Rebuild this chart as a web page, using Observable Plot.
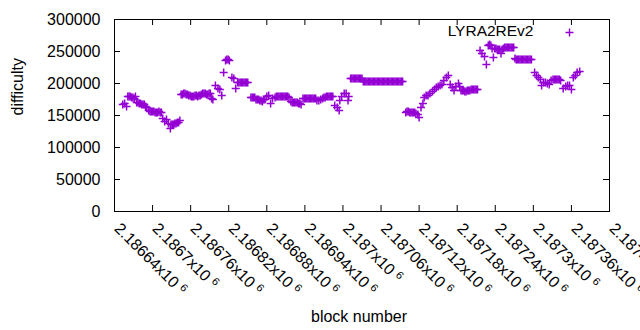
<!DOCTYPE html>
<html>
<head>
<meta charset="utf-8">
<script src="https://cdn.jsdelivr.net/npm/d3@7"></script>
<script src="https://cdn.jsdelivr.net/npm/@observablehq/plot@0.6"></script>
<style>
  html, body { margin: 0; padding: 0; background: #fff; overflow: hidden; }
  #chart { width: 640px; height: 330px; overflow: hidden; }
</style>
</head>
<body>
<div id="chart"></div>
<script>
// ---- data ----
const seriesName = "LYRA2REv2";
const blocks = [
  2186653, 2186656, 2186659,
  2186661, 2186663, 2186665, 2186667, 2186669, 2186671, 2186673,
  2186675, 2186677, 2186679, 2186681, 2186683, 2186685, 2186687, 2186689, 2186691,
  2186694, 2186696, 2186698, 2186700, 2186702, 2186704, 2186706, 2186708, 2186710, 2186712, 2186714,
  2186716, 2186719, 2186722, 2186725, 2186728,
  2186729, 2186731, 2186733, 2186735, 2186737, 2186739, 2186741, 2186743,
  2186745, 2186747, 2186749, 2186751, 2186753, 2186755, 2186757, 2186759, 2186761, 2186763, 2186765, 2186767,
  2186769, 2186771, 2186773, 2186775, 2186777, 2186779, 2186781, 2186783, 2186785, 2186787, 2186789, 2186791,
  2186793, 2186795, 2186799, 2186803, 2186806, 2186809, 2186812,
  2186815, 2186817, 2186819, 2186821, 2186825, 2186828, 2186831,
  2186834, 2186836, 2186838, 2186840, 2186842, 2186844, 2186846, 2186848, 2186850,
  2186855, 2186857, 2186859, 2186861, 2186863, 2186865, 2186867, 2186869, 2186871, 2186873, 2186875,
  2186877, 2186880, 2186883, 2186886, 2186889,
  2186893, 2186895, 2186897, 2186899, 2186901, 2186903, 2186905, 2186907, 2186909, 2186911, 2186913, 2186915,
  2186918, 2186920, 2186922, 2186924, 2186926, 2186928, 2186930, 2186932, 2186934,
  2186937, 2186939, 2186941, 2186943, 2186945, 2186947, 2186949, 2186951, 2186953, 2186955, 2186957,
  2186959, 2186962, 2186965,
  2186968, 2186970, 2186972, 2186974, 2186976, 2186978, 2186980, 2186982, 2186984,
  2186987, 2186991, 2186994, 2186995, 2186998, 2187002, 2187005, 2187008, 2187009,
  2187012, 2187014, 2187016, 2187018, 2187020, 2187022, 2187024, 2187026, 2187028, 2187030,
  2187032, 2187034, 2187036, 2187038, 2187040, 2187042, 2187044, 2187046, 2187048, 2187050,
  2187052, 2187054, 2187056, 2187058, 2187060, 2187062, 2187064, 2187066, 2187068, 2187070,
  2187072, 2187074, 2187076, 2187078, 2187080, 2187082, 2187084, 2187086, 2187088, 2187090, 2187092, 2187094,
  2187099, 2187101, 2187103, 2187105, 2187107, 2187109, 2187111, 2187113, 2187115, 2187118, 2187120,
  2187123, 2187126, 2187128, 2187131, 2187134, 2187137, 2187141, 2187144, 2187147, 2187150,
  2187153, 2187156, 2187159, 2187163, 2187166, 2187169, 2187172, 2187175, 2187178, 2187182,
  2187184, 2187186, 2187188, 2187190, 2187192, 2187194, 2187196, 2187198, 2187200,
  2187202, 2187204, 2187206, 2187208, 2187210, 2187212,
  2187216, 2187219, 2187223, 2187226,
  2187229, 2187231, 2187233, 2187235, 2187237, 2187239, 2187241, 2187243, 2187245, 2187247, 2187249, 2187251, 2187253,
  2187255, 2187257, 2187259, 2187261, 2187263, 2187265, 2187267, 2187269,
  2187271, 2187273, 2187275, 2187277, 2187279, 2187281, 2187283, 2187285,
  2187287, 2187289, 2187291, 2187293, 2187295, 2187297,
  2187302, 2187305, 2187308, 2187311, 2187313, 2187316, 2187319, 2187322, 2187325, 2187328,
  2187331, 2187333, 2187335, 2187337, 2187339, 2187341, 2187343,
  2187347, 2187351, 2187354, 2187357, 2187360, 2187363, 2187366, 2187369, 2187373
];
const difficulty = [
  167200, 168800, 164100,
  179700, 179700, 179700, 178100, 178100, 176600, 179700,
  170300, 170300, 168800, 168800, 167200, 167200, 167200, 164100, 162500,
  157800, 156300, 156300, 156300, 156300, 154700, 154700, 154700, 156300, 154700, 154700,
  145300, 140600, 143800, 137500, 129700,
  135900, 135900, 135900, 137500, 137500, 139100, 139100, 142200,
  182800, 182800, 184400, 184400, 182800, 182800, 181300, 181300, 179700, 179700, 179700, 181300,
  181300, 179700, 181300, 181300, 182800, 184400, 184400, 184400, 182800, 182800, 184400, 184400,
  176600, 175000, 196900, 192200, 190600, 181300, 217200,
  235900, 237500, 237500, 235900, 209400, 207800, 192200,
  201600, 201600, 201600, 201600, 201600, 201600, 201600, 201600, 201600,
  178100, 178100, 178100, 178100, 175000, 175000, 175000, 173400, 173400, 171900, 175000,
  175000, 179700, 181300, 168800, 176600,
  178100, 179700, 179700, 179700, 179700, 179700, 179700, 179700, 179700, 179700, 179700, 178100,
  171900, 170300, 170300, 170300, 170300, 170300, 168800, 168800, 167200,
  176600, 176600, 176600, 176600, 176600, 176600, 176600, 176600, 176600, 176600, 176600,
  173400, 173400, 175000,
  176600, 178100, 178100, 179700, 179700, 179700, 179700, 179700, 179700,
  165600, 162500, 157800, 173400, 179700, 184400, 184400, 173400, 179700,
  207800, 207800, 207800, 207800, 207800, 207800, 207800, 207800, 207800, 207800,
  203100, 203100, 203100, 203100, 203100, 203100, 203100, 203100, 203100, 203100,
  203100, 203100, 203100, 203100, 203100, 203100, 203100, 203100, 203100, 203100,
  203100, 203100, 203100, 203100, 203100, 203100, 203100, 203100, 203100, 203100, 203100, 203100,
  154700, 156300, 156300, 154700, 154700, 154700, 154700, 154700, 153100, 151600, 146900,
  162500, 168800, 178100, 181300, 181300, 184400, 187500, 190600, 193800, 195300,
  196900, 198400, 204700, 209400, 212500, 198400, 193800, 189100, 195300, 200000,
  195300, 189100, 189100, 189100, 187500, 187500, 189100, 189100, 189100,
  190600, 190600, 190600, 190600, 190600, 190600,
  251600, 246900, 242200, 229700,
  259400, 260900, 259400, 254700, 240600, 254700, 254700, 253100, 253100, 253100, 246900, 253100, 254700,
  256300, 256300, 256300, 256300, 256300, 256300, 256300, 256300,
  239100, 237500, 237500, 237500, 237500, 237500, 237500, 237500,
  237500, 237500, 237500, 237500, 237500, 237500,
  217200, 212500, 209400, 206300, 196900, 201600, 201600, 200000, 198400, 204700,
  206300, 206300, 206300, 206300, 206300, 206300, 204700,
  192200, 195300, 196900, 196900, 190600, 209400, 212500, 217200, 218800
];
const xTicks = [2186640, 2186700, 2186760, 2186820, 2186880, 2186940, 2187000,
                2187060, 2187120, 2187180, 2187240, 2187300, 2187360, 2187420];
const xTickLabels = ["2.18664", "2.1867", "2.18676", "2.18682", "2.18688", "2.18694", "2.187",
                     "2.18706", "2.18712", "2.18718", "2.18724", "2.1873", "2.18736", "2.18742"];
const xTickExponent = "6";
const yTicks = [0, 50000, 100000, 150000, 200000, 250000, 300000];
const xLabel = "block number";
const yLabel = "difficulty";

// ---- build ----
const n = Math.min(blocks.length, difficulty.length);
const data = blocks.slice(0, n).map((b, i) => ({block: b, difficulty: difficulty[i]}));
const color = "#9400d3";
const plusSymbol = {
  draw(ctx, size) {
    const r = Math.sqrt(size / Math.PI);
    ctx.moveTo(-r, 0); ctx.lineTo(r, 0);
    ctx.moveTo(0, -r); ctx.lineTo(0, r);
  }
};

const W = 640, H = 330, mL = 114, mR = 31, mT = 19, mB = 119;
const innerW = W - mL - mR, innerH = H - mT - mB;
const tick = 6;
const fs = 16;

const chart = Plot.plot({
  width: W, height: H,
  marginLeft: mL, marginRight: mR, marginTop: mT, marginBottom: mB,
  style: {fontFamily: "'Liberation Sans', Arial, sans-serif", fontSize: fs + "px", background: "white", color: "#000", overflow: "visible"},
  x: {domain: [xTicks[0], xTicks[xTicks.length - 1]], axis: null},
  y: {domain: [yTicks[0], yTicks[yTicks.length - 1]], axis: null},
  marks: [
    Plot.axisY({ticks: yTicks, tickSize: 0, tickPadding: 14, tickFormat: d => String(d), fontSize: fs, label: null}),
    Plot.ruleX(xTicks, {x: d => d, stroke: "black", insetTop: innerH - tick}),
    Plot.ruleX(xTicks, {x: d => d, stroke: "black", insetBottom: innerH - tick}),
    Plot.ruleY(yTicks, {y: d => d, stroke: "black", insetRight: innerW - tick}),
    Plot.ruleY(yTicks, {y: d => d, stroke: "black", insetLeft: innerW - tick}),
    Plot.text(xTicks, {x: d => d, text: (d, i) => xTickLabels[i], frameAnchor: "bottom", rotate: 45,
      textAnchor: "start", lineAnchor: "top", dx: 7, dy: 10, fontSize: fs, fill: "#000"}),
    Plot.text([xLabel], {frameAnchor: "bottom", lineAnchor: "middle", dy: 105, dx: -3, fontSize: fs, fill: "#000"}),
    Plot.text([yLabel], {frameAnchor: "left", lineAnchor: "middle", dx: -97, rotate: -90, fontSize: fs, fill: "#000"}),
    Plot.dot(data, {x: "block", y: "difficulty", symbol: plusSymbol, r: 4, stroke: color, strokeWidth: 1.5, fill: "none"}),
    Plot.text([seriesName], {frameAnchor: "top-right", lineAnchor: "middle", dx: -76, dy: 12, textAnchor: "end", fontSize: 15.5, fill: "#000"}),
    Plot.dot([0], {frameAnchor: "top-right", dx: -40, dy: 13, symbol: plusSymbol, r: 4, stroke: color, strokeWidth: 1.4, fill: "none"}),
    Plot.frame({stroke: "black", strokeWidth: 1})
  ]
});

// superscript exponent on the rotated x tick labels ("x10^6")
const labelSet = new Set(xTickLabels);
d3.select(chart).selectAll("text").each(function () {
  const t = d3.select(this);
  if (this.childElementCount === 0 && labelSet.has(t.text())) {
    const base = t.text();
    t.text(base + "x10 ");
    t.append("tspan").attr("dy", "-0.45em").attr("font-size", "11px").text(xTickExponent);
  }
});

document.getElementById("chart").appendChild(chart);
</script>
</body>
</html>
